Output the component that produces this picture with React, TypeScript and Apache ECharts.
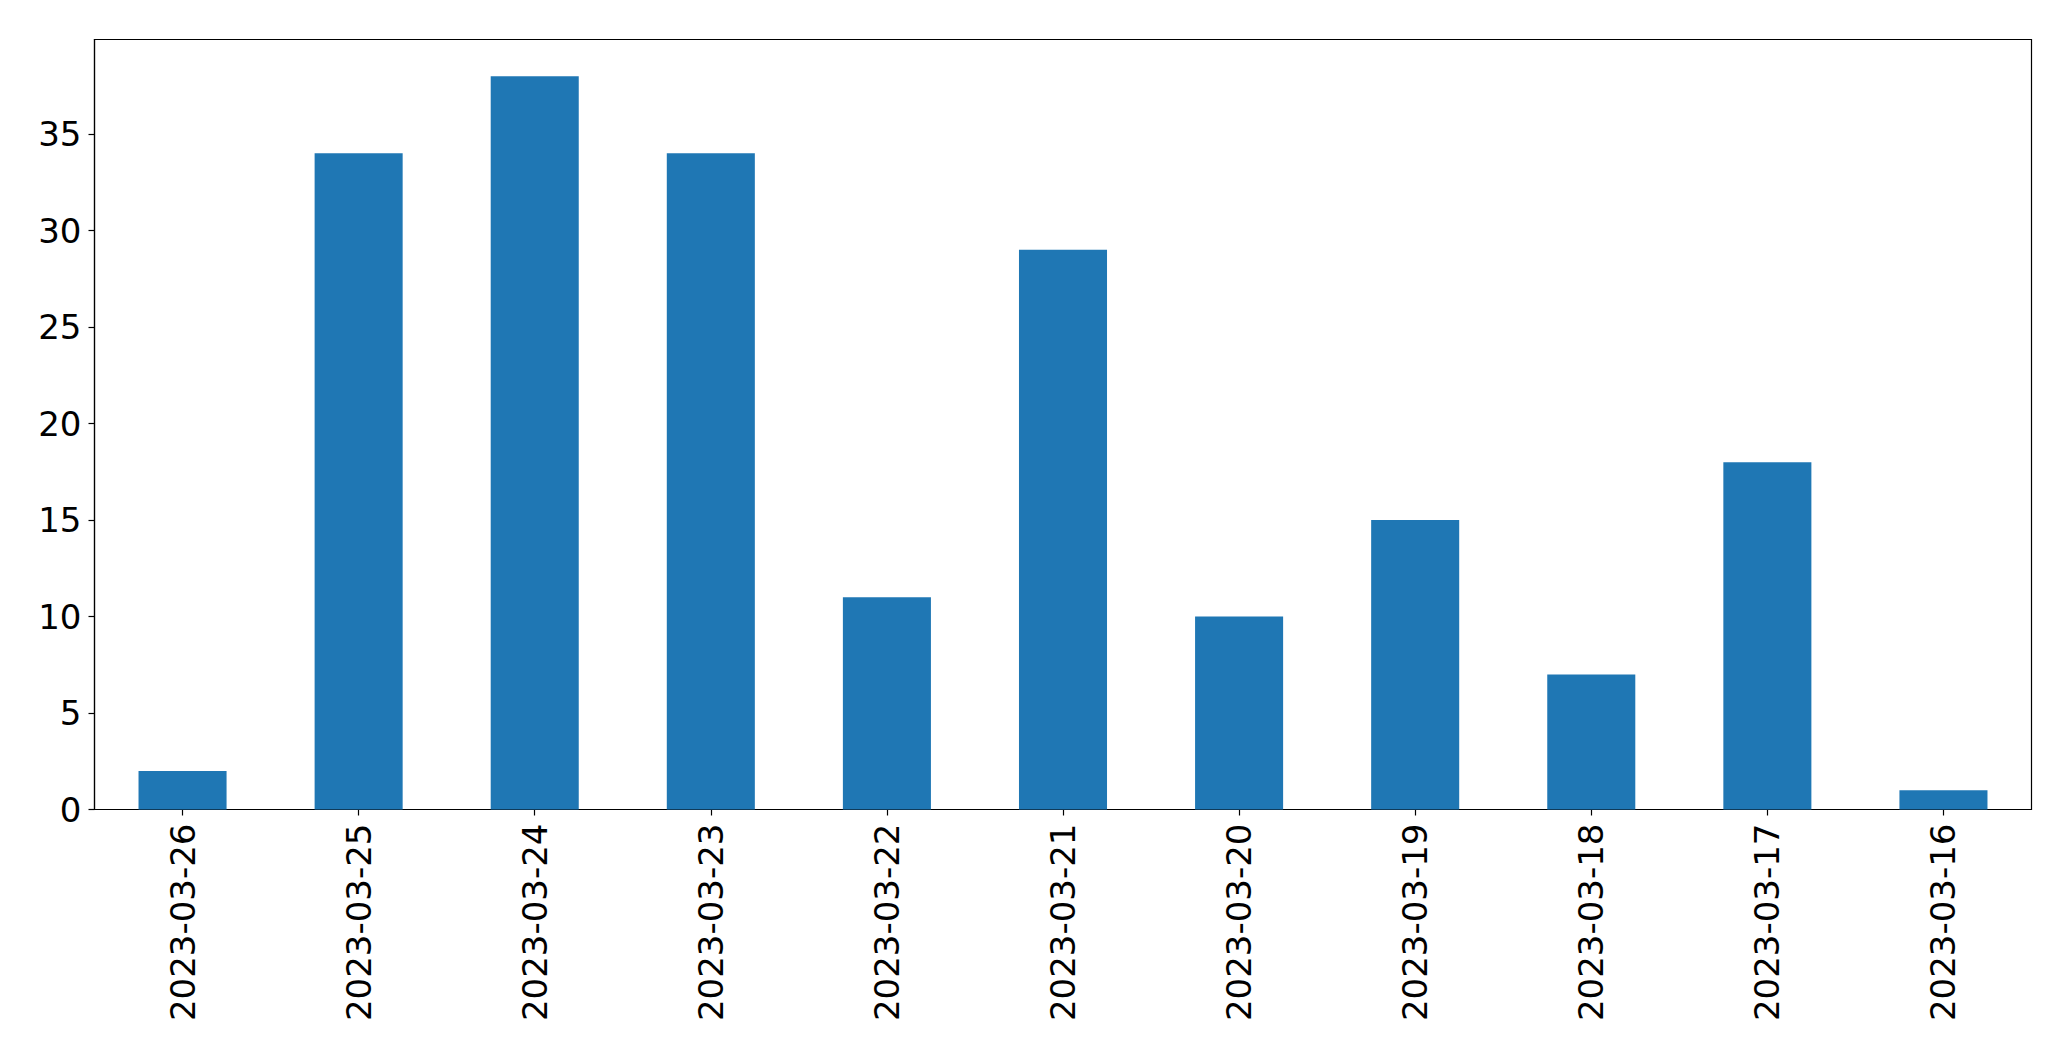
import React, { useEffect, useRef } from "react";
import * as echarts from "echarts";

const categories = [
  "2023-03-26", "2023-03-25", "2023-03-24", "2023-03-23", "2023-03-22", "2023-03-21",
  "2023-03-20", "2023-03-19", "2023-03-18", "2023-03-17", "2023-03-16",
];
const counts = [2, 34, 38, 34, 11, 29, 10, 15, 7, 18, 1];
const yTicks = [0, 5, 10, 15, 20, 25, 30, 35];

export default function App() {
  const ref = useRef<HTMLDivElement>(null);
  useEffect(() => {
    if (!ref.current) return;
    const chart = echarts.init(ref.current, null, { renderer: "svg" });
    const font = "DejaVu Sans";
    chart.setOption({
      animation: false,
      backgroundColor: "#ffffff",
      grid: {
        left: 94.5,
        top: 39.5,
        right: 39.5,
        bottom: 251.5,
        show: true,
        borderColor: "#000000",
        borderWidth: 1.2,
        backgroundColor: "transparent",
      },
      xAxis: {
        type: "category",
        data: categories,
        boundaryGap: true,
        axisLine: { show: true, lineStyle: { color: "#000000", width: 1.2 } },
        axisTick: { show: true, alignWithLabel: true, length: 6, lineStyle: { color: "#000000", width: 1.2 } },
        axisLabel: {
          rotate: 90,
          interval: 0,
          margin: 14,
          color: "#000000",
          fontFamily: font,
          fontSize: 34,
        },
        splitLine: { show: false },
      },
      yAxis: {
        type: "value",
        min: 0,
        max: 39.9,
        interval: 5,
        axisLine: { show: true, lineStyle: { color: "#000000", width: 1.2 } },
        axisTick: {
          show: true,
          length: 6,
          customValues: yTicks,
          lineStyle: { color: "#000000", width: 1.2 },
        },
        axisLabel: {
          customValues: yTicks,
          margin: 13,
          color: "#000000",
          fontFamily: font,
          fontSize: 34,
        },
        splitLine: { show: false },
      },
      series: [
        {
          type: "bar",
          data: counts,
          barWidth: "50%",
          itemStyle: { color: "#1f77b4" },
        },
      ],
    });
    return () => chart.dispose();
  }, []);
  return (
    <div
      ref={ref}
      style={{ position: "fixed", left: 0, top: 0, width: 2071, height: 1061, background: "#fff" }}
    />
  );
}
